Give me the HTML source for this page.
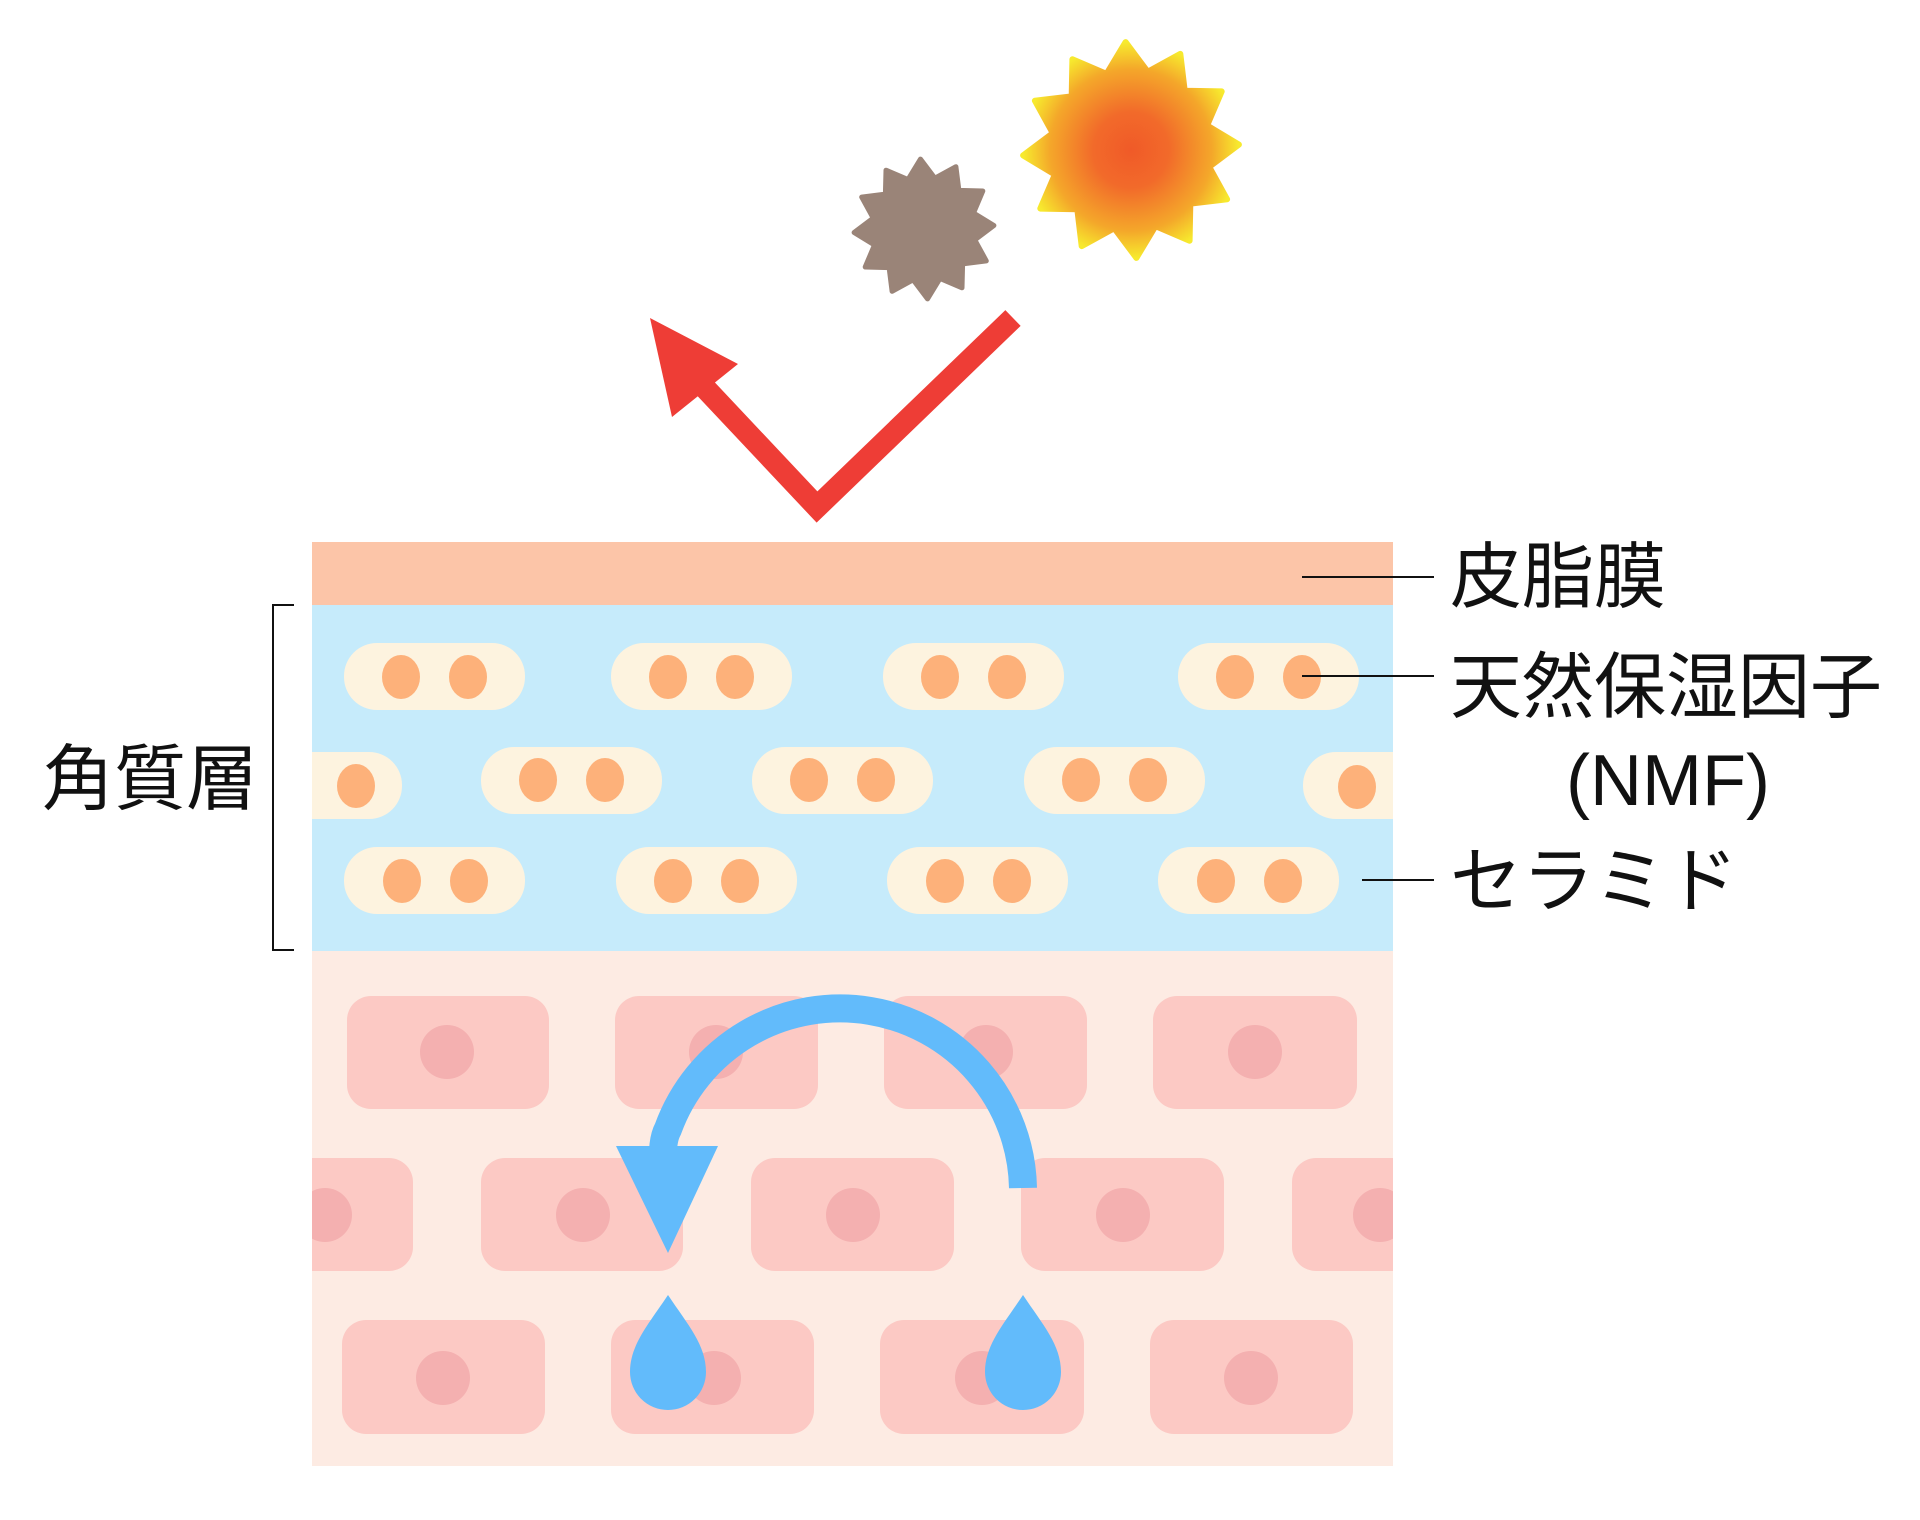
<!DOCTYPE html>
<html><head><meta charset="utf-8"><style>
html,body{margin:0;padding:0;background:#fff;}
svg{display:block;}
text{font-family:"Liberation Sans","Noto Sans CJK JP",sans-serif;fill:#111;}
</style></head><body>
<svg width="1920" height="1520" viewBox="0 0 1920 1520" xmlns="http://www.w3.org/2000/svg">
<defs>
<radialGradient id="sun" cx="50%" cy="50%" r="50%">
<stop offset="0" stop-color="#f05a28"/><stop offset="0.35" stop-color="#f26a2a"/><stop offset="0.75" stop-color="#f4a72a"/><stop offset="1" stop-color="#f7ea2e"/>
</radialGradient>
<clipPath id="cl"><rect x="312" y="1150" width="200" height="130"/></clipPath>
<clipPath id="cr"><rect x="1200" y="1150" width="193" height="130"/></clipPath>
</defs>
<polygon fill="url(#sun)" stroke="url(#sun)" stroke-width="6" stroke-linejoin="round" points="" id="sunp"/>
<polygon fill="#9a8478" stroke="#9a8478" stroke-width="5" stroke-linejoin="round" points="" id="dust"/>
<polyline points="1013,318 817,507 705,388" fill="none" stroke="#ee3d36" stroke-width="22" stroke-linejoin="miter" stroke-miterlimit="10"/>
<polygon points="650,318 738,364 672,417" fill="#ee3d36"/>
<rect x="312" y="542" width="1081" height="63" fill="#fcc5a8"/>
<rect x="312" y="605" width="1081" height="346" fill="#c6ebfb"/>
<rect x="312" y="951" width="1081" height="515" fill="#fdebe3"/>
<g fill="#fdf3df">
<rect x="344" y="643" width="181" height="67" rx="33"/>
<rect x="611" y="643" width="181" height="67" rx="33"/>
<rect x="883" y="643" width="181" height="67" rx="33"/>
<rect x="1178" y="643" width="181" height="67" rx="33"/>
<path d="M312,752 H369 A33,33 0 0 1 402,785 V786 A33,33 0 0 1 369,819 H312 Z"/>
<rect x="481" y="747" width="181" height="67" rx="33"/>
<rect x="752" y="747" width="181" height="67" rx="33"/>
<rect x="1024" y="747" width="181" height="67" rx="33"/>
<path d="M1393,752 H1336 A33,33 0 0 0 1303,785 V786 A33,33 0 0 0 1336,819 H1393 Z"/>
<rect x="344" y="847" width="181" height="67" rx="33"/>
<rect x="616" y="847" width="181" height="67" rx="33"/>
<rect x="887" y="847" width="181" height="67" rx="33"/>
<rect x="1158" y="847" width="181" height="67" rx="33"/>
</g>
<g fill="#fdb17a">
<ellipse cx="401" cy="677" rx="19" ry="22"/><ellipse cx="468" cy="677" rx="19" ry="22"/>
<ellipse cx="668" cy="677" rx="19" ry="22"/><ellipse cx="735" cy="677" rx="19" ry="22"/>
<ellipse cx="940" cy="677" rx="19" ry="22"/><ellipse cx="1007" cy="677" rx="19" ry="22"/>
<ellipse cx="1235" cy="677" rx="19" ry="22"/><ellipse cx="1302" cy="677" rx="19" ry="22"/>
<ellipse cx="356" cy="786" rx="19" ry="22"/>
<ellipse cx="538" cy="780" rx="19" ry="22"/><ellipse cx="605" cy="780" rx="19" ry="22"/>
<ellipse cx="809" cy="780" rx="19" ry="22"/><ellipse cx="876" cy="780" rx="19" ry="22"/>
<ellipse cx="1081" cy="780" rx="19" ry="22"/><ellipse cx="1148" cy="780" rx="19" ry="22"/>
<ellipse cx="1357" cy="787" rx="19" ry="22"/>
<ellipse cx="402" cy="881" rx="19" ry="22"/><ellipse cx="469" cy="881" rx="19" ry="22"/>
<ellipse cx="673" cy="881" rx="19" ry="22"/><ellipse cx="740" cy="881" rx="19" ry="22"/>
<ellipse cx="945" cy="881" rx="19" ry="22"/><ellipse cx="1012" cy="881" rx="19" ry="22"/>
<ellipse cx="1216" cy="881" rx="19" ry="22"/><ellipse cx="1283" cy="881" rx="19" ry="22"/>
</g>
<g fill="#fcc9c4">
<rect x="347" y="996" width="202" height="113" rx="24"/>
<rect x="615" y="996" width="203" height="113" rx="24"/>
<rect x="884" y="996" width="203" height="113" rx="24"/>
<rect x="1153" y="996" width="204" height="113" rx="24"/>
<path d="M312,1158 H389 A24,24 0 0 1 413,1182 V1247 A24,24 0 0 1 389,1271 H312 Z"/>
<rect x="481" y="1158" width="202" height="113" rx="24"/>
<rect x="751" y="1158" width="203" height="113" rx="24"/>
<rect x="1021" y="1158" width="203" height="113" rx="24"/>
<path d="M1393,1158 H1316 A24,24 0 0 0 1292,1182 V1247 A24,24 0 0 0 1316,1271 H1393 Z"/>
<rect x="342" y="1320" width="203" height="114" rx="24"/>
<rect x="611" y="1320" width="203" height="114" rx="24"/>
<rect x="880" y="1320" width="204" height="114" rx="24"/>
<rect x="1150" y="1320" width="203" height="114" rx="24"/>
</g>
<g fill="#f4b0b0">
<circle cx="447" cy="1052" r="27"/><circle cx="716" cy="1052" r="27"/><circle cx="986" cy="1052" r="27"/><circle cx="1255" cy="1052" r="27"/>
<circle cx="325" cy="1215" r="27" clip-path="url(#cl)"/>
<circle cx="583" cy="1215" r="27"/><circle cx="853" cy="1215" r="27"/><circle cx="1123" cy="1215" r="27"/>
<circle cx="1380" cy="1215" r="27" clip-path="url(#cr)"/>
<circle cx="443" cy="1378" r="27"/><circle cx="714" cy="1378" r="27"/><circle cx="982" cy="1378" r="27"/><circle cx="1251" cy="1378" r="27"/>
</g>
<path d="M1023,1188 A183,183 0 0 0 668,1129 Q662,1140 663,1162" fill="none" stroke="#62bbfb" stroke-width="28"/>
<polygon points="616,1146 718,1146 668,1253" fill="#62bbfb"/>
<path d="M668,1295 C648,1325 630,1345 630,1372 A38,38 0 0 0 706,1372 C706,1345 688,1325 668,1295 Z" fill="#62bbfb"/>
<path d="M1023,1295 C1003,1325 985,1345 985,1372 A38,38 0 0 0 1061,1372 C1061,1345 1043,1325 1023,1295 Z" fill="#62bbfb"/>
<g stroke="#111" stroke-width="2">
<line x1="1302" y1="577" x2="1434" y2="577"/>
<line x1="1302" y1="676" x2="1434" y2="676"/>
<line x1="1362" y1="880" x2="1434" y2="880"/>
<polyline points="294,605 273,605 273,950 294,950" fill="none"/>
</g>
<text x="1450" y="602" font-size="72">皮脂膜</text>
<text x="1450" y="712" font-size="72">天然保湿因子</text>
<text x="1668" y="805" font-size="72" text-anchor="middle">(NMF)</text>
<text x="1450" y="906" font-size="72">セラミド</text>
<text x="42" y="804" font-size="72">角質層</text>
<script>
function star(cx,cy,R,r,n,rot){let p=[];for(let i=0;i<2*n;i++){let a=rot+Math.PI*i/n;let rr=i%2?r:R;p.push((cx+rr*Math.sin(a)).toFixed(1)+","+(cy-rr*Math.cos(a)).toFixed(1));}return p.join(" ");}
document.getElementById("sunp").setAttribute("points",star(1131,150,108,80,12,-0.05));
document.getElementById("dust").setAttribute("points",star(924,229,70,52,12,-0.05));
</script>
</svg>
</body></html>
